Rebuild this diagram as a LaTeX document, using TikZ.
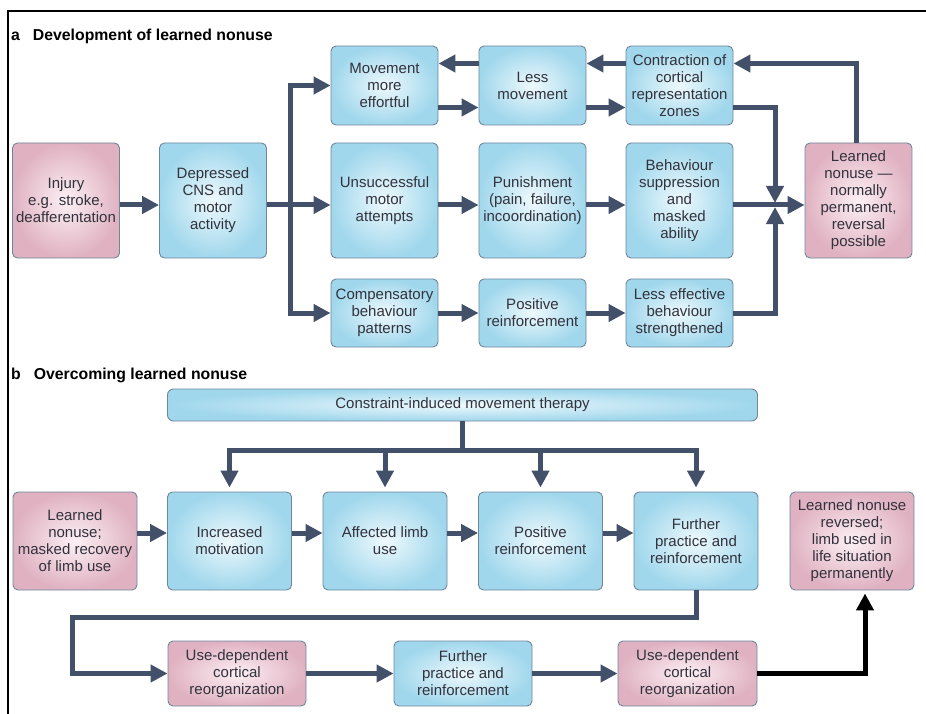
\documentclass[tikz,border=0pt]{standalone}
\usepackage{fontspec}
\setmainfont{Liberation Sans}
\usetikzlibrary{arrows.meta}

\definecolor{blueedge}{RGB}{160,215,236}
\definecolor{bluecore}{RGB}{238,249,253}
\definecolor{pinkedge}{RGB}{224,178,193}
\definecolor{pinkcore}{RGB}{252,240,245}
\definecolor{boxline}{RGB}{110,135,155}
\definecolor{flowgrey}{RGB}{66,80,106}
\definecolor{txtgrey}{RGB}{50,50,60}

\begin{document}
\begin{tikzpicture}[
        x=1pt, y=-1pt,
        every node/.style={align=center, font=\fontsize{15}{17}\selectfont, text=txtgrey},
        bluebox/.style={draw=boxline, line width=0.9pt, rounded corners=5pt, inner sep=0pt,
            inner color=bluecore, outer color=blueedge},
        pinkbox/.style={draw=boxline, line width=0.9pt, rounded corners=5pt, inner sep=0pt,
            inner color=pinkcore, outer color=pinkedge},
        panel/.style={anchor=west, inner sep=0pt, text=black, font=\fontsize{15.8}{18}\selectfont\bfseries},
        wire/.style={draw=flowgrey, line width=5pt},
        flow/.style={wire, -{Triangle[length=17pt,width=17pt]}},
        final/.style={draw=black, line width=5pt, -{Triangle[length=17pt,width=17pt]}}
    ]
    \useasboundingbox (0,0) rectangle (926,714);
    \draw[line width=1.2pt] (8,714) -- (8,11) -- (926,11);

    % a: development of learned nonuse
    \node[panel] (titlea) at (11,36) {a\hspace{13pt}Development of learned nonuse};
    \node[pinkbox, minimum width=107pt, minimum height=115pt] (injury) at (66,200.5) {Injury\\e.g. stroke,\\deafferentation};
    \node[bluebox, minimum width=107pt, minimum height=115pt] (cns) at (213,200.5) {Depressed\\CNS and\\motor\\activity};
    \node[bluebox, minimum width=107pt, minimum height=79pt] (effort) at (384.5,85.5) {Movement\\more\\effortful};
    \node[bluebox, minimum width=107pt, minimum height=115pt] (attempt) at (384.5,200.5) {Unsuccessful\\motor\\attempts};
    \node[bluebox, minimum width=107pt, minimum height=68pt] (compens) at (384.5,313) {Compensatory\\behaviour\\patterns};
    \node[bluebox, minimum width=107pt, minimum height=79pt] (lessmove) at (532.5,85.5) {Less\\movement};
    \node[bluebox, minimum width=107pt, minimum height=115pt] (punish) at (532.5,200.5) {Punishment\\(pain, failure,\\incoordination)};
    \node[bluebox, minimum width=107pt, minimum height=68pt] (posreina) at (532.5,313) {Positive\\reinforcement};
    \node[bluebox, minimum width=107pt, minimum height=79pt] (contract) at (679.5,85.5) {Contraction of\\cortical\\representation\\zones};
    \node[bluebox, minimum width=107pt, minimum height=115pt] (suppress) at (679.5,200.5) {Behaviour\\suppression\\and\\masked\\ability};
    \node[bluebox, minimum width=107pt, minimum height=68pt] (lesseff) at (679.5,313) {Less effective\\behaviour\\strengthened};
    \node[pinkbox, minimum width=107pt, minimum height=115pt] (nonusea) at (858.5,200.5) {Learned\\nonuse ---\\normally\\permanent,\\reversal\\possible};

    \coordinate (split) at (290,205);
    \coordinate (merge) at (775,205);
    \draw[flow] ([yshift=-4.5pt]injury.east) -- ([yshift=-4.5pt]cns.west);
    \draw[wire] ([yshift=-4.5pt]cns.east) -- (split);
    \draw[flow] (split) |- (effort.west);
    \draw[flow] (split) -- ([yshift=-4.5pt]attempt.west);
    \draw[flow] (split) |- (compens.west);
    \draw[flow] ([yshift=-22pt]effort.east) -- ([yshift=-22pt]lessmove.west);
    \draw[flow] ([yshift=-22pt]lessmove.east) -- ([yshift=-22pt]contract.west);
    \draw[flow] ([yshift=22pt]contract.west) -- ([yshift=22pt]lessmove.east);
    \draw[flow] ([yshift=22pt]lessmove.west) -- ([yshift=22pt]effort.east);
    \draw[flow] ([yshift=-4.5pt]attempt.east) -- ([yshift=-4.5pt]punish.west);
    \draw[flow] ([yshift=-4.5pt]punish.east) -- ([yshift=-4.5pt]suppress.west);
    \draw[flow] (compens.east) -- (posreina.west);
    \draw[flow] (posreina.east) -- (lesseff.west);
    \draw[flow] ([yshift=-22pt]contract.east) -| ([yshift=2pt]merge);
    \draw[flow] (lesseff.east) -| ([yshift=-2pt]merge);
    \draw[flow] ([yshift=-4.5pt]suppress.east) -- ([yshift=-4.5pt]nonusea.west);
    \draw[flow] ([xshift=-2.5pt]nonusea.north) |- ([yshift=22pt]contract.east);

    % b: overcoming learned nonuse
    \node[panel] (titleb) at (11,375) {b\hspace{13pt}Overcoming learned nonuse};
    \node[bluebox, rounded corners=6pt, minimum width=590pt, minimum height=32pt] (cimt) at (462.5,405) {Constraint-induced movement therapy};
    \node[pinkbox, minimum width=124pt, minimum height=98pt] (masked) at (75,541) {Learned\\nonuse;\\masked recovery\\of limb use};
    \node[bluebox, minimum width=124pt, minimum height=98pt] (motiv) at (229.5,541) {Increased\\motivation};
    \node[bluebox, minimum width=124pt, minimum height=98pt] (limbuse) at (385,541) {Affected limb\\use};
    \node[bluebox, minimum width=124pt, minimum height=98pt] (posreinb) at (540.5,541) {Positive\\reinforcement};
    \node[bluebox, minimum width=124pt, minimum height=98pt] (practice) at (696,541) {Further\\practice and\\reinforcement};
    \node[pinkbox, minimum width=124pt, minimum height=98pt] (reversed) at (852,541) {Learned nonuse\\reversed;\\limb used in\\life situation\\permanently};
    \node[pinkbox, minimum width=138pt, minimum height=65pt] (reorgone) at (237,673.5) {Use-dependent\\cortical\\reorganization};
    \node[bluebox, minimum width=138pt, minimum height=65pt] (practwo) at (463,673.5) {Further\\practice and\\reinforcement};
    \node[pinkbox, minimum width=139pt, minimum height=65pt] (reorgtwo) at (687.5,673.5) {Use-dependent\\cortical\\reorganization};

    \coordinate (bus) at (462.5,450);
    \coordinate (loop) at (72,617);
    \draw[flow] (cimt.south) -- (bus) -| ([yshift=4pt]motiv.north);
    \draw[flow] (cimt.south) -- (bus) -| ([yshift=4pt]practice.north);
    \draw[flow] (limbuse.north |- bus) -- ([yshift=4pt]limbuse.north);
    \draw[flow] (posreinb.north |- bus) -- ([yshift=4pt]posreinb.north);
    \draw[flow] ([yshift=8pt]masked.east) -- ([yshift=8pt]motiv.west);
    \draw[flow] ([yshift=8pt]motiv.east) -- ([yshift=8pt]limbuse.west);
    \draw[flow] ([yshift=8pt]limbuse.east) -- ([yshift=8pt]posreinb.west);
    \draw[flow] ([yshift=8pt]posreinb.east) -- ([yshift=8pt]practice.west);
    \draw[flow] (practice.south) |- (loop) |- (reorgone.west);
    \draw[flow] (reorgone.east) -- (practwo.west);
    \draw[flow] (practwo.east) -- (reorgtwo.west);
    \draw[final] (reorgtwo.east) -| ([xshift=13pt,yshift=-3pt]reversed.south);
\end{tikzpicture}
\end{document}
